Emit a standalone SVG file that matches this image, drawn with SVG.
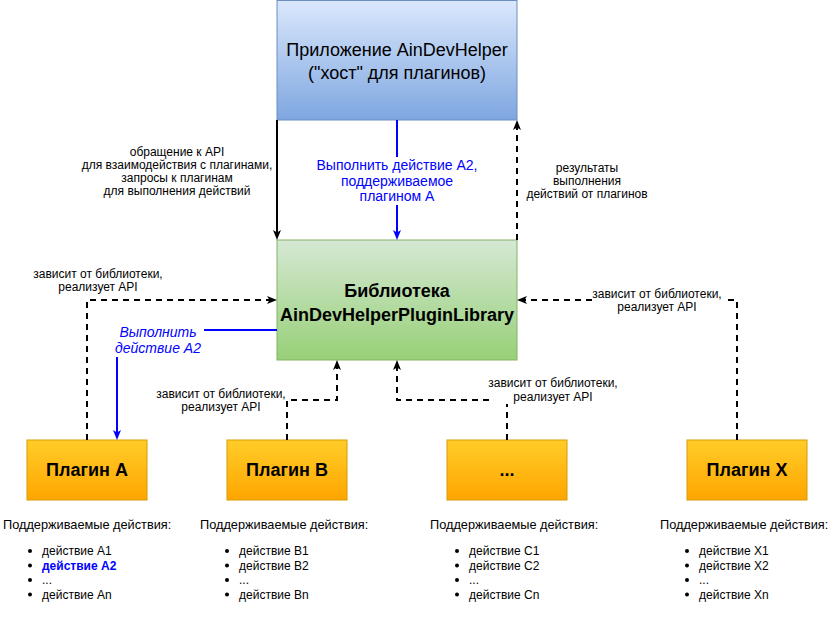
<svg xmlns="http://www.w3.org/2000/svg" width="838" height="621" viewBox="0 0 838 621">
<style>
text{font-family:"Liberation Sans",Arial,sans-serif;fill:#000}
.lbl{font-size:12px;text-anchor:middle}
.blue{fill:#0000ff;font-size:14px;text-anchor:middle}
.title{font-size:18px;text-anchor:middle}
.bold{font-weight:bold}
.hdr{font-size:12.75px}
.item{font-size:12px}
.dash{fill:none;stroke:#000;stroke-width:2;stroke-dasharray:6 5}
.solid{fill:none;stroke:#000;stroke-width:2}
.bl{fill:none;stroke:#0000ff;stroke-width:2}
</style>
<defs>
<linearGradient id="gBlue" x1="0" y1="0" x2="0" y2="1"><stop offset="0" stop-color="#dae8fc"/><stop offset="1" stop-color="#7ea6e0"/></linearGradient>
<linearGradient id="gGreen" x1="0" y1="0" x2="0" y2="1"><stop offset="0" stop-color="#d5e8d4"/><stop offset="1" stop-color="#97d077"/></linearGradient>
<linearGradient id="gOrange" x1="0" y1="0" x2="0" y2="1"><stop offset="0" stop-color="#ffcd28"/><stop offset="1" stop-color="#ffa500"/></linearGradient>
<marker id="ak" markerUnits="userSpaceOnUse" markerWidth="10" markerHeight="10" refX="6" refY="4" orient="auto"><path d="M0,0 L10,4 L0,8 L2.5,4 z" fill="#000"/></marker>
<marker id="ab" markerUnits="userSpaceOnUse" markerWidth="10" markerHeight="10" refX="6" refY="4" orient="auto"><path d="M0,0 L10,4 L0,8 L2.5,4 z" fill="#0000ff"/></marker>
</defs>

<g id="host">
<rect x="277" y="0.5" width="240" height="119.5" fill="url(#gBlue)" stroke="#6c8ebf"/>
<text class="title" x="397" y="56">Приложение AinDevHelper</text>
<text class="title" x="397" y="79">("хост" для плагинов)</text>
</g>

<g id="library">
<rect x="277" y="240" width="240" height="120" fill="url(#gGreen)" stroke="#82b366"/>
<text class="title bold" x="397" y="297">Библиотека</text>
<text class="title bold" x="397" y="321">AinDevHelperPluginLibrary</text>
</g>

<g id="pluginA">
<rect x="27" y="440" width="120" height="60" fill="url(#gOrange)" stroke="#d79b00"/>
<text class="title bold" x="87" y="476">Плагин А</text>
<text class="hdr" x="3" y="529">Поддерживаемые действия:</text>
<circle cx="30" cy="551" r="2"/><circle cx="30" cy="565.5" r="2"/><circle cx="30" cy="580" r="2"/><circle cx="30" cy="594.5" r="2"/>
<text class="item" x="42" y="555">действие A1</text>
<text class="item bold" x="42" y="569.5" style="fill:#0000ff">действие A2</text>
<text class="item" x="42" y="584">...</text>
<text class="item" x="42" y="598.5">действие An</text>
</g>

<g id="pluginB">
<rect x="227" y="440" width="120" height="60" fill="url(#gOrange)" stroke="#d79b00"/>
<text class="title bold" x="287" y="476">Плагин В</text>
<text class="hdr" x="200" y="529">Поддерживаемые действия:</text>
<circle cx="227" cy="551" r="2"/><circle cx="227" cy="565.5" r="2"/><circle cx="227" cy="580" r="2"/><circle cx="227" cy="594.5" r="2"/>
<text class="item" x="239" y="555">действие B1</text>
<text class="item" x="239" y="569.5">действие B2</text>
<text class="item" x="239" y="584">...</text>
<text class="item" x="239" y="598.5">действие Bn</text>
</g>

<g id="pluginC">
<rect x="447" y="440" width="120" height="60" fill="url(#gOrange)" stroke="#d79b00"/>
<text class="title bold" x="507" y="476">...</text>
<text class="hdr" x="430" y="529">Поддерживаемые действия:</text>
<circle cx="457" cy="551" r="2"/><circle cx="457" cy="565.5" r="2"/><circle cx="457" cy="580" r="2"/><circle cx="457" cy="594.5" r="2"/>
<text class="item" x="469" y="555">действие C1</text>
<text class="item" x="469" y="569.5">действие C2</text>
<text class="item" x="469" y="584">...</text>
<text class="item" x="469" y="598.5">действие Cn</text>
</g>

<g id="pluginX">
<rect x="687" y="440" width="120" height="60" fill="url(#gOrange)" stroke="#d79b00"/>
<text class="title bold" x="747" y="476">Плагин X</text>
<text class="hdr" x="660" y="529">Поддерживаемые действия:</text>
<circle cx="687" cy="551" r="2"/><circle cx="687" cy="565.5" r="2"/><circle cx="687" cy="580" r="2"/><circle cx="687" cy="594.5" r="2"/>
<text class="item" x="699" y="555">действие X1</text>
<text class="item" x="699" y="569.5">действие X2</text>
<text class="item" x="699" y="584">...</text>
<text class="item" x="699" y="598.5">действие Xn</text>
</g>

<g id="connectors">
<path class="solid" d="M277 120 V236" marker-end="url(#ak)"/>
<path class="bl" d="M397 120 V157 M397 205 V236" marker-end="url(#ab)"/>
<path class="dash" d="M517 240 V124" marker-end="url(#ak)"/>
<path class="dash" d="M87 440 V300 H273" marker-end="url(#ak)"/>
<path class="bl" d="M277 330 H204 M117 357 V436" marker-end="url(#ab)"/>
<path class="dash" d="M287 440 V400 H337 V364" marker-end="url(#ak)"/>
<path class="dash" d="M507 440 V404 M489 400 H397 V364" marker-end="url(#ak)"/>
<path class="dash" d="M737 440 V300 H723 M592 300 H521" marker-end="url(#ak)"/>

<text class="lbl" x="177" y="156">обращение к API</text>
<text class="lbl" x="177" y="169">для взаимодействия с плагинами,</text>
<text class="lbl" x="177" y="182">запросы к плагинам</text>
<text class="lbl" x="177" y="195">для выполнения действий</text>

<text class="blue" x="397" y="170">Выполнить действие A2,</text>
<text class="blue" x="397" y="185.5">поддерживаемое</text>
<text class="blue" x="397" y="201">плагином А</text>

<text class="lbl" x="587" y="172">результаты</text>
<text class="lbl" x="587" y="185">выполнения</text>
<text class="lbl" x="587" y="198">действий от плагинов</text>

<text class="lbl" x="98" y="278">зависит от библиотеки,</text>
<text class="lbl" x="98" y="291">реализует API</text>

<text class="blue" x="158" y="337" font-style="italic">Выполнить</text>
<text class="blue" x="158" y="353" font-style="italic">действие А2</text>

<text class="lbl" x="221" y="398">зависит от библиотеки,</text>
<text class="lbl" x="221" y="411">реализует API</text>

<text class="lbl" x="553" y="387">зависит от библиотеки,</text>
<text class="lbl" x="553" y="401">реализует API</text>

<text class="lbl" x="657" y="298">зависит от библиотеки,</text>
<text class="lbl" x="657" y="311">реализует API</text>
</g>
</svg>
